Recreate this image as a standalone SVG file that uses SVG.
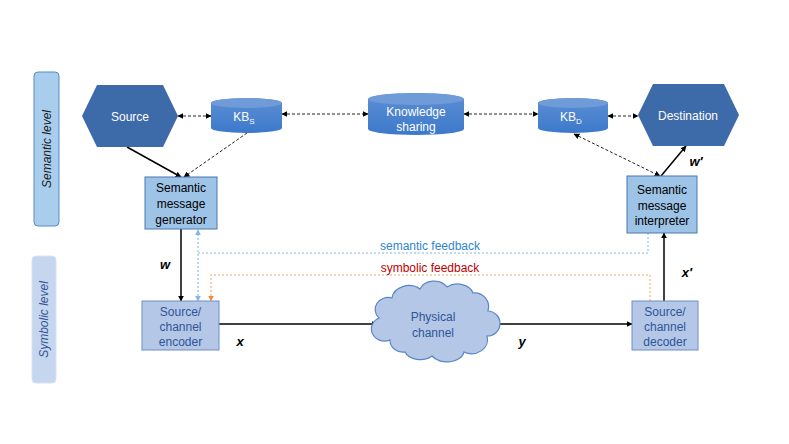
<svg xmlns="http://www.w3.org/2000/svg" width="789" height="444" viewBox="0 0 789 444">
<style>
text{font-family:"Liberation Sans",Arial,sans-serif;font-size:12px}
.wt{fill:#ffffff;text-anchor:middle}
.bk{fill:#000000;text-anchor:middle}
.bl{fill:#2f5597;text-anchor:middle}
.var{font-weight:bold;font-style:italic;font-size:13px;fill:#000;text-anchor:middle}
.hex{fill:#3d6aa8}
.cyl{fill:url(#cg)}
.cyltop{fill:#6f9bd8}
.sem{fill:#9dc3e6;stroke:#4a77b4;stroke-width:1}
.sym{fill:#b4c7e7;stroke:#6d8fc8;stroke-width:1}
.solid{stroke:#000;stroke-width:1.5;fill:none}
.dash{stroke:#222;stroke-width:1;stroke-dasharray:3,2;fill:none}
.bfb{stroke:#7fb6e8;stroke-width:1;stroke-dasharray:2,2;fill:none}
.ofb{stroke:#f4a460;stroke-width:1;stroke-dasharray:2,2;fill:none}
</style>
<defs>
<linearGradient id="cg" x1="0" y1="0" x2="0" y2="1">
<stop offset="0" stop-color="#5d8fd3"/>
<stop offset="1" stop-color="#3c79cb"/>
</linearGradient>
<marker id="ak" viewBox="0 0 10 10" refX="9" refY="5" markerWidth="6" markerHeight="6" orient="auto-start-reverse" markerUnits="userSpaceOnUse"><path d="M0,0 L10,5 L0,10 z" fill="#000"/></marker>
<marker id="ab" viewBox="0 0 10 10" refX="9" refY="5" markerWidth="6" markerHeight="6" orient="auto-start-reverse" markerUnits="userSpaceOnUse"><path d="M0,0 L10,5 L0,10 z" fill="#7fb6e8"/></marker>
<marker id="ao" viewBox="0 0 10 10" refX="9" refY="5" markerWidth="6" markerHeight="6" orient="auto-start-reverse" markerUnits="userSpaceOnUse"><path d="M0,0 L10,5 L0,10 z" fill="#f08c3c"/></marker>
</defs>

<g id="semantic-level">
<rect x="34" y="72" width="25" height="154" rx="4" fill="#a9cdec" stroke="#5b8bc4" stroke-width="1"/>
<text transform="translate(51,149) rotate(-90)" text-anchor="middle" font-style="italic" fill="#1a1a1a">Semantic level</text>
</g>
<g id="symbolic-level">
<rect x="32" y="256" width="24" height="127" rx="4" fill="#c5d6ee" stroke="#d6e2f3" stroke-width="1"/>
<text transform="translate(48,319.5) rotate(-90)" text-anchor="middle" font-style="italic" fill="#2f5597">Symbolic level</text>
</g>

<g id="connectors">
<line class="dash" x1="178" y1="116" x2="211" y2="116" marker-start="url(#ak)" marker-end="url(#ak)"/>
<line class="dash" x1="282" y1="114" x2="368" y2="114" marker-start="url(#ak)" marker-end="url(#ak)"/>
<line class="dash" x1="464" y1="114" x2="538" y2="114" marker-start="url(#ak)" marker-end="url(#ak)"/>
<line class="dash" x1="608" y1="116" x2="638" y2="116" marker-start="url(#ak)" marker-end="url(#ak)"/>
<line class="solid" x1="127" y1="147" x2="181" y2="177" marker-end="url(#ak)"/>
<line class="dash" x1="247" y1="133" x2="184" y2="177" marker-end="url(#ak)"/>
<line class="dash" x1="574" y1="134" x2="660" y2="176" marker-start="url(#ak)" marker-end="url(#ak)"/>
<line class="solid" x1="661" y1="176" x2="686" y2="146" marker-end="url(#ak)"/>
<line class="solid" x1="181" y1="229" x2="181" y2="301" marker-end="url(#ak)"/>
<line class="solid" x1="664" y1="301" x2="664" y2="233" marker-end="url(#ak)"/>
<line class="solid" x1="219" y1="324" x2="377" y2="324" marker-end="url(#ak)"/>
<line class="solid" x1="492" y1="324" x2="632" y2="324" marker-end="url(#ak)"/>
<polyline class="bfb" points="648,233 648,253 198,253"/>
<line class="bfb" x1="198" y1="230" x2="198" y2="301" marker-start="url(#ab)" marker-end="url(#ab)"/>
<polyline class="ofb" points="650,301 650,275 211,275 211,301" marker-end="url(#ao)"/>
<text x="430" y="250" text-anchor="middle" fill="#2e86d0">semantic feedback</text>
<text x="430" y="272" text-anchor="middle" fill="#c00000">symbolic feedback</text>
<text class="var" x="165" y="269">w</text>
<text class="var" x="240" y="346">x</text>
<text class="var" x="522" y="346">y</text>
<text class="var" x="687" y="277">x′</text>
<text class="var" x="696" y="166">w′</text>
</g>

<g id="source">
<polygon class="hex" points="82,116 97,85 163,85 178,116 163,147 97,147"/>
<text class="wt" x="130" y="121">Source</text>
</g>
<g id="kbs">
<path class="cyl" d="M211,103 A35.5,5 0 0 1 282,103 V128 A35.5,5 0 0 1 211,128 Z"/>
<ellipse class="cyltop" cx="246.5" cy="103" rx="35.5" ry="5"/>
<text class="wt" x="244" y="121">KB<tspan font-size="8" dy="3">S</tspan></text>
</g>
<g id="knowledge-sharing">
<path class="cyl" d="M368,99 A48,6 0 0 1 464,99 V129 A48,6 0 0 1 368,129 Z"/>
<ellipse class="cyltop" cx="416" cy="99" rx="48" ry="6"/>
<text class="wt" x="416" y="116">Knowledge</text>
<text class="wt" x="416" y="131">sharing</text>
</g>
<g id="kbd">
<path class="cyl" d="M538,103 A35,5 0 0 1 608,103 V128 A35,5 0 0 1 538,128 Z"/>
<ellipse class="cyltop" cx="573" cy="103" rx="35" ry="5"/>
<text class="wt" x="571" y="121">KB<tspan font-size="8" dy="3">D</tspan></text>
</g>
<g id="destination">
<polygon class="hex" points="638,115 653,84 724,84 739,115 724,146 653,146"/>
<text class="wt" x="688" y="120">Destination</text>
</g>
<g id="generator">
<rect class="sem" x="145" y="177" width="72" height="52"/>
<text class="bk" x="181" y="192">Semantic</text>
<text class="bk" x="181" y="208">message</text>
<text class="bk" x="181" y="224">generator</text>
</g>
<g id="interpreter">
<rect class="sem" x="627" y="176" width="70" height="57"/>
<text class="bk" x="662" y="194">Semantic</text>
<text class="bk" x="662" y="210">message</text>
<text class="bk" x="662" y="225">interpreter</text>
</g>
<g id="encoder">
<rect class="sym" x="142" y="301" width="77" height="49"/>
<text class="bl" x="180.5" y="316">Source/</text>
<text class="bl" x="180.5" y="331">channel</text>
<text class="bl" x="180.5" y="346">encoder</text>
</g>
<g id="decoder">
<rect class="sym" x="632" y="301" width="66" height="49"/>
<text class="bl" x="665" y="316">Source/</text>
<text class="bl" x="665" y="331">channel</text>
<text class="bl" x="665" y="346">decoder</text>
</g>
<g id="physical-channel">
<path d="M390,340 A13,12 0 0 1 379,318 A13,12 0 0 1 392,298 A17,14 0 0 1 420,289 A15,12 0 0 1 447,287 A16,12 0 0 1 473,293 A14,14 0 0 1 488,311 A12,12 0 0 1 487,336 A16,14 0 0 1 464,352 A17,11 0 0 1 432,356 A16,11 0 0 1 405,352 A13,12 0 0 1 390,340 Z" fill="#b4c7e7" stroke="#5b86c4" stroke-width="1.2"/>
<text class="bl" x="433" y="321">Physical</text>
<text class="bl" x="433" y="337">channel</text>
</g>
</svg>
